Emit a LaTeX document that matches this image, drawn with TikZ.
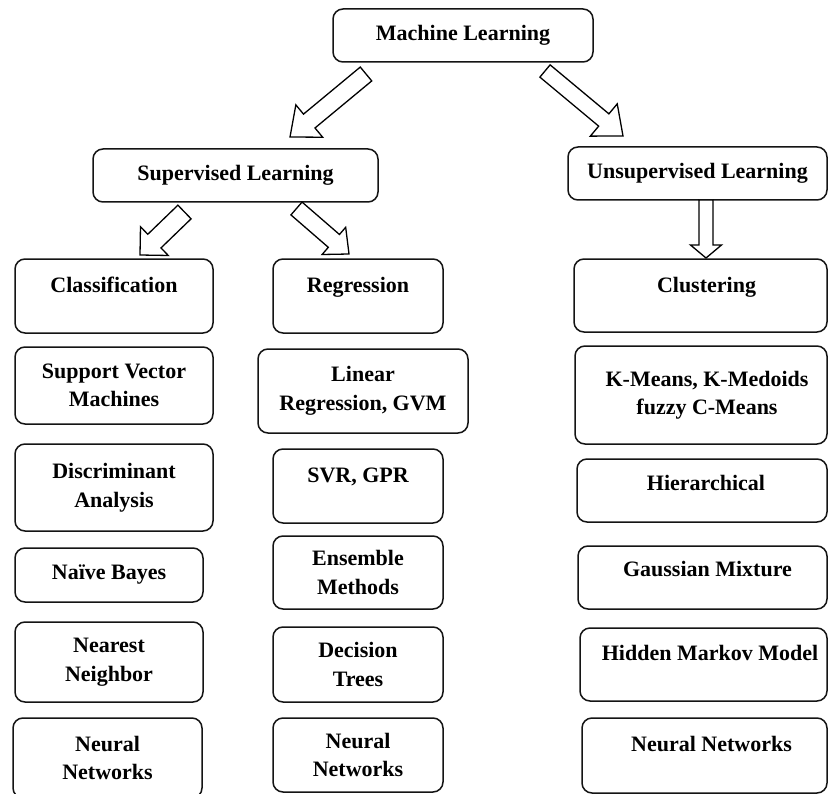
\documentclass[tikz,border=0pt]{standalone}
\usepackage{fontspec}
\setmainfont{Liberation Serif}
\usetikzlibrary{calc}
\newcommand\blockarrow[5]{%
  \path coordinate (bac) at ($(#2)!#5!(#1)$);
  \draw[barrow] ($(#1)!#3!90:(#2)$) -- ($(bac)!#3!90:(#2)$) -- ($(bac)!#4!90:(#2)$) -- (#2)
    -- ($(bac)!#4!-90:(#2)$) -- ($(bac)!#3!-90:(#2)$) -- ($(#1)!#3!-90:(#2)$) -- cycle;
}
\tikzset{
  box/.style={draw=black!92, line width=1.5pt, rounded corners=10pt, fill=white,
    font=\fontsize{22}{28.5}\selectfont\bfseries, align=center, inner sep=0pt},
  topline/.style={text height=15pt, text depth=#1},
  tshift/.style={execute at begin node={\hspace*{#1}}},
  barrow/.style={draw=black, line width=1.3pt, fill=white, line join=miter},
}
\begin{document}
\begin{tikzpicture}[x=1pt,y=-1pt]
\useasboundingbox (0,0) rectangle (829,794);
% top levels
\node[box, minimum width=260pt, minimum height=53pt] (ml) at (463,35.5) {Machine Learning};
\node[box, minimum width=285pt, minimum height=53pt] (sup) at (235.5,175.5) {Supervised Learning};
\node[box, minimum width=259pt, minimum height=53pt] (uns) at (697.5,173.5) {Unsupervised Learning};
% category boxes
\node[box, topline=22.4pt, minimum width=198pt, minimum height=74pt] (cls) at (114,296) {Classification};
\node[box, topline=22.4pt, minimum width=170pt, minimum height=74pt] (reg) at (358,296) {Regression};
\node[box, topline=21.4pt, tshift=12pt, minimum width=253pt, minimum height=73pt] (clu) at (700.5,295.5) {Clustering};
% column 1
\node[box, minimum width=198pt, minimum height=77pt] (svm) at (114,385.5) {Support Vector\\Machines};
\node[box, minimum width=198pt, minimum height=87pt] (dis) at (114,487.5) {Discriminant\\Analysis};
\node[box, minimum width=188pt, minimum height=54pt] (nb) at (109,575) {Naïve Bayes};
\node[box, minimum width=188pt, minimum height=80pt] (nn) at (109,662) {Nearest\\Neighbor};
\node[box, minimum width=189pt, minimum height=80pt] (nna) at (107.5,758) {Neural\\Networks};
% column 2
\node[box, minimum width=210pt, minimum height=84pt] (lin) at (363,391) {Linear\\Regression, GVM};
\node[box, topline=22.4pt, minimum width=170pt, minimum height=74pt] (svr) at (358,486) {SVR, GPR};
\node[box, minimum width=170pt, minimum height=73pt] (ens) at (358,572.5) {Ensemble\\Methods};
\node[box, minimum width=170pt, minimum height=75pt] (dt) at (358,664.5) {Decision\\Trees};
\node[box, minimum width=170pt, minimum height=74pt] (nnb) at (358,755) {Neural\\Networks};
% column 3
\node[box, minimum width=252pt, minimum height=98pt] (km) at (701,395) {\hspace*{12pt}K-Means, K-Medoids\\\hspace*{12pt}fuzzy C-Means};
\node[box, topline=15.4pt, tshift=8pt, minimum width=250pt, minimum height=63pt] (hier) at (702,490.5) {Hierarchical};
\node[box, topline=17.4pt, tshift=10pt, minimum width=249pt, minimum height=63pt] (gm) at (702.5,577.5) {Gaussian Mixture};
\node[box, topline=23.4pt, tshift=13pt, minimum width=247pt, minimum height=73pt] (hmm) at (703.5,664.5) {Hidden Markov Model};
\node[box, topline=23.4pt, tshift=14pt, minimum width=245pt, minimum height=75pt] (nnc) at (704.5,755.5) {Neural Networks};
% arrow end points
\coordinate (a1s) at (366,74);   \coordinate (a1e) at (290,137);
\coordinate (a2s) at (545,71);   \coordinate (a2e) at (623,136);
\coordinate (a3s) at (184.5,212);\coordinate (a3e) at (140,255);
\coordinate (a4s) at (296.5,208.5);\coordinate (a4e) at (349,254);
\coordinate (a5s) at (706,200);  \coordinate (a5e) at (706,258);
\blockarrow{a1s}{a1e}{9pt}{21pt}{25pt}
\blockarrow{a2s}{a2e}{8pt}{21pt}{25pt}
\blockarrow{a3s}{a3e}{9.5pt}{20pt}{20pt}
\blockarrow{a4s}{a4e}{8.5pt}{18pt}{20pt}
\blockarrow{a5s}{a5e}{7pt}{15.5pt}{13pt}
\end{tikzpicture}
\end{document}
